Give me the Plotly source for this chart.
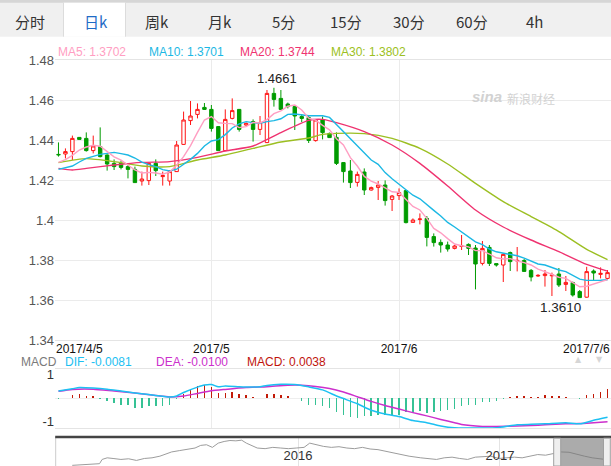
import plotly.graph_objects as go
import pandas as pd

W, H = 611, 466

# ---------------- data ----------------
trade_days = pd.bdate_range('2017-04-05', '2017-07-06', freq='C',
                            weekmask='Mon Tue Wed Thu Fri Sat')
days = [d.strftime('%Y-%m-%d') for d in trade_days]

open_ = [1.4328, 1.4330, 1.4342, 1.4413, 1.4408, 1.4347, 1.4367, 1.4325, 1.4283, 1.4283,
         1.4267, 1.4253, 1.4195, 1.4197, 1.4283, 1.4217, 1.4195, 1.4242, 1.4378, 1.4497,
         1.4528, 1.4563, 1.4553, 1.4467, 1.4347, 1.4508, 1.4553, 1.4475, 1.4492, 1.4453,
         1.4387, 1.4633, 1.4608, 1.4580, 1.4567, 1.4517, 1.4512, 1.4397, 1.4500, 1.4433,
         1.4413, 1.4287, 1.4245, 1.4188, 1.4240, 1.4150, 1.4163, 1.4175, 1.4103, 1.4122,
         1.4147, 1.3988, 1.4003, 1.4008, 1.3917, 1.3888, 1.3875, 1.3858, 1.3868, 1.3878,
         1.3860, 1.3783, 1.3863, 1.3782, 1.3775, 1.3837, 1.3795, 1.3797, 1.3748, 1.3720,
         1.3722, 1.3721, 1.3730, 1.3678, 1.3687, 1.3642, 1.3614, 1.3745, 1.3728, 1.3708]
high = [1.4388, 1.4358, 1.4422, 1.4415, 1.4438, 1.4422, 1.4463, 1.4328, 1.4303, 1.4297,
        1.4275, 1.4267, 1.4242, 1.4287, 1.4303, 1.4242, 1.4250, 1.4395, 1.4542, 1.4595,
        1.4583, 1.4585, 1.4575, 1.4470, 1.4553, 1.4608, 1.4555, 1.4487, 1.4503, 1.4520,
        1.4650, 1.4661, 1.4650, 1.4587, 1.4568, 1.4530, 1.4520, 1.4503, 1.4517, 1.4437,
        1.4438, 1.4290, 1.4300, 1.4242, 1.4258, 1.4167, 1.4195, 1.4198, 1.4125, 1.4158,
        1.4150, 1.4008, 1.4033, 1.4020, 1.3933, 1.3903, 1.3892, 1.3875, 1.3925, 1.3883,
        1.3875, 1.3895, 1.3875, 1.3782, 1.3833, 1.3842, 1.3865, 1.3805, 1.3755, 1.3729,
        1.3750, 1.3737, 1.3760, 1.3720, 1.3692, 1.3650, 1.3766, 1.3753, 1.3763, 1.3750]
low = [1.4317, 1.4308, 1.4300, 1.4402, 1.4342, 1.4333, 1.4313, 1.4247, 1.4250, 1.4253,
       1.4208, 1.4187, 1.4172, 1.4175, 1.4220, 1.4172, 1.4172, 1.4240, 1.4376, 1.4475,
       1.4508, 1.4550, 1.4442, 1.4347, 1.4345, 1.4503, 1.4442, 1.4470, 1.4392, 1.4425,
       1.4385, 1.4567, 1.4550, 1.4558, 1.4450, 1.4490, 1.4385, 1.4392, 1.4403, 1.4410,
       1.4275, 1.4187, 1.4160, 1.4167, 1.4125, 1.4147, 1.4100, 1.4072, 1.4045, 1.4100,
       1.3983, 1.3987, 1.3978, 1.3868, 1.3867, 1.3837, 1.3842, 1.3853, 1.3850, 1.3825,
       1.3653, 1.3773, 1.3770, 1.3767, 1.3690, 1.3745, 1.3743, 1.3742, 1.3693, 1.3716,
       1.3667, 1.3620, 1.3665, 1.3645, 1.3617, 1.3610, 1.3611, 1.3700, 1.3708, 1.3703]
close = [1.4326, 1.4342, 1.4408, 1.4403, 1.4347, 1.4370, 1.4317, 1.4280, 1.4267, 1.4263,
         1.4253, 1.4187, 1.4205, 1.4283, 1.4247, 1.4222, 1.4242, 1.4375, 1.4500, 1.4520,
         1.4553, 1.4553, 1.4458, 1.4347, 1.4503, 1.4547, 1.4453, 1.4483, 1.4453, 1.4487,
         1.4633, 1.4603, 1.4553, 1.4567, 1.4520, 1.4508, 1.4398, 1.4500, 1.4437, 1.4412,
         1.4283, 1.4242, 1.4187, 1.4228, 1.4150, 1.4162, 1.4175, 1.4097, 1.4120, 1.4137,
         1.3987, 1.4000, 1.4005, 1.3913, 1.3887, 1.3875, 1.3855, 1.3870, 1.3870, 1.3858,
         1.3780, 1.3858, 1.3783, 1.3775, 1.3828, 1.3792, 1.3798, 1.3743, 1.3715, 1.3723,
         1.3730, 1.3725, 1.3675, 1.3688, 1.3625, 1.3612, 1.3742, 1.3735, 1.3733, 1.3737]

ma5 = [1.4288, 1.4302, 1.4323, 1.4350, 1.4365, 1.4374, 1.4369, 1.4343, 1.4316, 1.4299,
       1.4276, 1.4250, 1.4235, 1.4238, 1.4235, 1.4229, 1.4240, 1.4274, 1.4317, 1.4372,
       1.4438, 1.4500, 1.4517, 1.4486, 1.4483, 1.4482, 1.4462, 1.4467, 1.4488, 1.4485,
       1.4502, 1.4532, 1.4546, 1.4569, 1.4575, 1.4550, 1.4509, 1.4499, 1.4473, 1.4451,
       1.4406, 1.4375, 1.4312, 1.4270, 1.4218, 1.4194, 1.4180, 1.4162, 1.4141, 1.4138,
       1.4103, 1.4068, 1.4050, 1.4008, 1.3958, 1.3936, 1.3907, 1.3880, 1.3871, 1.3866,
       1.3847, 1.3847, 1.3830, 1.3811, 1.3805, 1.3807, 1.3795, 1.3787, 1.3775, 1.3754,
       1.3742, 1.3727, 1.3714, 1.3708, 1.3689, 1.3666, 1.3669, 1.3681, 1.3690, 1.3702]
ma10 = [1.4253, 1.4260, 1.4270, 1.4290, 1.4308, 1.4318, 1.4328, 1.4333, 1.4338, 1.4332,
        1.4325, 1.4310, 1.4289, 1.4277, 1.4267, 1.4252, 1.4245, 1.4254, 1.4278, 1.4303,
        1.4333, 1.4370, 1.4395, 1.4402, 1.4427, 1.4460, 1.4481, 1.4492, 1.4487, 1.4484,
        1.4492, 1.4497, 1.4506, 1.4528, 1.4530, 1.4526, 1.4521, 1.4522, 1.4521, 1.4513,
        1.4478, 1.4442, 1.4405, 1.4372, 1.4335, 1.4300, 1.4278, 1.4237, 1.4206, 1.4178,
        1.4149, 1.4124, 1.4106, 1.4075, 1.4048, 1.4020, 1.3988, 1.3965, 1.3940, 1.3912,
        1.3891, 1.3877, 1.3855, 1.3841, 1.3835, 1.3827, 1.3821, 1.3809, 1.3793, 1.3780,
        1.3775, 1.3761, 1.3750, 1.3742, 1.3721, 1.3704, 1.3698, 1.3697, 1.3699, 1.3701]
ma20_idx = [0, 2, 4, 8, 12, 16, 20, 24, 28, 32, 36, 38, 40, 44, 48, 52, 56, 60, 64, 68, 72, 76, 79]
ma20 = [1.4258, 1.4250, 1.4258, 1.4275, 1.4288, 1.4292, 1.4313, 1.4345, 1.4370, 1.4437,
        1.4498, 1.4503, 1.4487, 1.4442, 1.4375, 1.4283, 1.4170, 1.4050, 1.3965, 1.3900,
        1.3842, 1.3778, 1.3744]
ma30_idx = [0, 4, 8, 12, 16, 20, 24, 28, 32, 36, 38, 40, 44, 48, 52, 56, 60, 64, 68, 72, 76, 79]
ma30 = [1.4287, 1.4307, 1.4292, 1.4270, 1.4267, 1.4300, 1.4325, 1.4358, 1.4390, 1.4410,
        1.4428, 1.4433, 1.4432, 1.4408, 1.4358, 1.4280, 1.4183, 1.4092, 1.4017, 1.3942,
        1.3853, 1.3802]

macd_hist = [-0.0003, 0.0003, 0.0013, 0.0017, 0.0010, 0.0009, -0.0001, -0.0011, -0.0020, -0.0027,
             -0.0030, -0.0040, -0.0041, -0.0033, -0.0033, -0.0034, -0.0027, -0.0005, 0.0020, 0.0039,
             0.0053, 0.0059, 0.0049, 0.0023, 0.0023, 0.0027, 0.0017, 0.0013, 0.0006, 0.0001,
             0.0017, 0.0020, 0.0013, 0.0010, 0.0001, -0.0010, -0.0027, -0.0030, -0.0033, -0.0040,
             -0.0059, -0.0070, -0.0080, -0.0083, -0.0076, -0.0077, -0.0073, -0.0073, -0.0070, -0.0070,
             -0.0059, -0.0061, -0.0054, -0.0061, -0.0059, -0.0056, -0.0051, -0.0044, -0.0034, -0.0030,
             -0.0027, -0.0016, -0.0016, -0.0011, -0.0003, 0.0004, 0.0010, 0.0009, 0.0006, 0.0007,
             0.0013, 0.0010, 0.0010, 0.0007, 0.0003, -0.0001, 0.0013, 0.0020, 0.0027, 0.0038]
dif_idx = [0, 2, 3, 5, 7, 9, 11, 13, 15, 16, 17, 18, 20, 21, 22, 23, 24, 26, 27, 29, 30, 32,
           34, 36, 38, 40, 41, 43, 45, 47, 49, 51, 53, 55, 57, 59, 61, 63, 66, 68, 70, 73, 75, 77, 79]
dif = [0.0031, 0.0041, 0.0046, 0.0044, 0.0039, 0.0031, 0.0023, 0.0016, 0.0009, 0.0006, 0.0010,
       0.0025, 0.0048, 0.0057, 0.0059, 0.0049, 0.0053, 0.0049, 0.0048, 0.0049, 0.0055, 0.0060,
       0.0059, 0.0049, 0.0036, 0.0010, -0.0001, -0.0023, -0.0051, -0.0067, -0.0078, -0.0095,
       -0.0104, -0.0118, -0.0126, -0.0127, -0.0127, -0.0126, -0.0113, -0.0111, -0.0109, -0.0104,
       -0.0109, -0.0094, -0.0081]
dea_idx = [0, 2, 5, 8, 11, 14, 16, 18, 20, 22, 24, 27, 30, 33, 35, 37, 39, 41, 43, 45, 47, 49,
           51, 53, 55, 57, 58, 61, 63, 66, 68, 70, 73, 75, 77, 79]
dea = [0.0030, 0.0038, 0.0039, 0.0031, 0.0023, 0.0012, 0.0006, 0.0010, 0.0021, 0.0032, 0.0038,
       0.0046, 0.0050, 0.0056, 0.0056, 0.0051, 0.0042, 0.0027, 0.0007, -0.0013, -0.0031, -0.0046,
       -0.0061, -0.0075, -0.0090, -0.0104, -0.0112, -0.0120, -0.0120, -0.0118, -0.0116, -0.0113,
       -0.0109, -0.0108, -0.0104, -0.0100]

nav_year = [2014.882, 2014.910, 2014.968, 2015.017, 2015.030, 2015.055, 2015.084, 2015.123,
            2015.161, 2015.200, 2015.239, 2015.277, 2015.316, 2015.345, 2015.374, 2015.412,
            2015.451, 2015.490, 2015.518, 2015.547, 2015.576, 2015.605, 2015.634, 2015.663,
            2015.692, 2015.721, 2015.744, 2015.769, 2015.798, 2015.837, 2015.875, 2015.914,
            2015.952, 2015.991, 2016.030, 2016.058, 2016.088, 2016.126, 2016.165, 2016.203,
            2016.242, 2016.280, 2016.319, 2016.357, 2016.396, 2016.435, 2016.473, 2016.512,
            2016.550, 2016.608, 2016.647, 2016.686, 2016.724, 2016.763, 2016.801, 2016.840,
            2016.878, 2016.917, 2016.955, 2016.994, 2017.033, 2017.072, 2017.110, 2017.149,
            2017.187, 2017.226, 2017.264, 2017.303, 2017.342, 2017.380, 2017.419, 2017.457,
            2017.505, 2017.534]
nav_value = [1.2508, 1.2560, 1.2560, 1.2770, 1.3453, 1.3715, 1.3610, 1.3453,
             1.3558, 1.3295, 1.3610, 1.3715, 1.3978, 1.4345, 1.4660, 1.4870,
             1.5028, 1.5290, 1.5710, 1.5815, 1.5395, 1.6078, 1.6340, 1.6498,
             1.6445, 1.6550, 1.6078, 1.5710, 1.5290, 1.5185, 1.5395, 1.5290,
             1.5185, 1.5290, 1.5395, 1.6078, 1.5815, 1.5553, 1.5395, 1.5500,
             1.5290, 1.5185, 1.5395, 1.5133, 1.5028, 1.4765, 1.4503, 1.4135,
             1.3978, 1.3715, 1.3610, 1.3453, 1.3715, 1.3820, 1.3610, 1.3453,
             1.3820, 1.3925, 1.3978, 1.3610, 1.3715, 1.3820, 1.3715, 1.3978,
             1.4240, 1.4135, 1.4345, 1.4660, 1.4608, 1.4240, 1.3978, 1.3715,
             1.3453, 1.3400]

price_ticks = [1.34, 1.36, 1.38, 1.40, 1.42, 1.44, 1.46, 1.48]
price_tick_text = ['1.34', '1.36', '1.38', '1.4', '1.42', '1.44', '1.46', '1.48']
month_ticks = ['2017-05-01', '2017-06-01']
month_tick_text = ['2017/5', '2017/6']
tabs = ['分时', '日k', '周k', '月k', '5分', '15分', '30分', '60分', '4h']

# ---------------- styles ----------------
C_MA5, C_MA10, C_MA20, C_MA30 = '#ff9ec2', '#1cb8e4', '#ef3370', '#9cbf22'
C_UP, C_DN = '#ff1414', '#009b00'
C_DIF, C_DEA = '#1cc0f2', '#cc2fcc'
C_HUP, C_HDN = '#c21a08', '#36c295'
LAT = 'Liberation Sans, Arial, sans-serif'
CJK = 'Noto Sans CJK SC, sans-serif'


def px(x):
    return x / W


def py(y):
    return 1 - y / H


fig = go.Figure()

fig.add_trace(go.Candlestick(
    x=days, open=open_, high=high, low=low, close=close,
    increasing=dict(line=dict(color=C_UP, width=1), fillcolor='#ffffff'),
    decreasing=dict(line=dict(color=C_DN, width=1), fillcolor=C_DN),
    whiskerwidth=0, showlegend=False, hoverinfo='skip', xaxis='x', yaxis='y'))

fig.add_trace(go.Scatter(x=[days[i] for i in ma30_idx], y=ma30, mode='lines',
                         line=dict(color=C_MA30, width=1.4, shape='spline', smoothing=0.6),
                         showlegend=False, hoverinfo='skip', xaxis='x', yaxis='y'))
fig.add_trace(go.Scatter(x=[days[i] for i in ma20_idx], y=ma20, mode='lines',
                         line=dict(color=C_MA20, width=1.4, shape='spline', smoothing=0.6),
                         showlegend=False, hoverinfo='skip', xaxis='x', yaxis='y'))
fig.add_trace(go.Scatter(x=days, y=ma10, mode='lines', line=dict(color=C_MA10, width=1.4),
                         showlegend=False, hoverinfo='skip', xaxis='x', yaxis='y'))
fig.add_trace(go.Scatter(x=days, y=ma5, mode='lines', line=dict(color=C_MA5, width=1.4),
                         showlegend=False, hoverinfo='skip', xaxis='x', yaxis='y'))

# MACD panel
fig.add_trace(go.Bar(x=days, y=macd_hist, width=0.22,
                     marker=dict(color=[C_HUP if v >= 0 else C_HDN for v in macd_hist],
                                 line=dict(width=0)),
                     showlegend=False, hoverinfo='skip', xaxis='x2', yaxis='y2'))
fig.add_trace(go.Scatter(x=[days[i] for i in dea_idx], y=dea, mode='lines',
                         line=dict(color=C_DEA, width=1.5, shape='spline', smoothing=0.6),
                         showlegend=False, hoverinfo='skip', xaxis='x2', yaxis='y2'))
fig.add_trace(go.Scatter(x=[days[i] for i in dif_idx], y=dif, mode='lines',
                         line=dict(color=C_DIF, width=1.5, shape='spline', smoothing=0.6),
                         showlegend=False, hoverinfo='skip', xaxis='x2', yaxis='y2'))

# navigator
fig.add_trace(go.Scatter(x=nav_year, y=nav_value, mode='lines',
                         line=dict(color='#9c9c9c', width=1),
                         showlegend=False, hoverinfo='skip', xaxis='x3', yaxis='y3'))

grid = '#ebebeb'
fig.update_layout(
    width=W, height=H, margin=dict(l=0, r=0, t=0, b=0),
    paper_bgcolor='white', plot_bgcolor='white',
    font=dict(family=LAT, size=12, color='#333'),
    bargap=0,
    xaxis=dict(domain=[55 / W, 1], type='category', categoryorder='array', categoryarray=days,
               range=[-0.5, 79.5], tickmode='array', tickvals=month_ticks, ticktext=month_tick_text,
               showgrid=True, gridcolor=grid, showline=True, mirror=True, linecolor='#e4e4e4',
               ticks='', tickfont=dict(size=12, color='#111'), rangeslider=dict(visible=False),
               ticklabelstandoff=-2,
               anchor='y', zeroline=False, automargin=False),
    yaxis=dict(domain=[py(340), py(60)], range=[1.34, 1.48], tickmode='array',
               tickvals=price_ticks, ticktext=price_tick_text, showgrid=True, gridcolor=grid,
               zeroline=False, ticks='', tickfont=dict(size=13, color='#555'), anchor='x',
               ticklabelstandoff=0, automargin=False),
    xaxis2=dict(domain=[55 / W, 1], type='category', categoryorder='array', categoryarray=days,
                range=[-0.5, 79.5], tickmode='array', tickvals=month_ticks, showticklabels=False,
                showgrid=True, gridcolor=grid, showline=True, mirror=True, linecolor='#e4e4e4',
                ticks='', anchor='y2', zeroline=False, automargin=False),
    yaxis2=dict(domain=[py(428.3), py(369.3)], range=[-0.0128, 0.0124], tickmode='array',
                tickvals=[-0.01, 0.01], ticktext=['-1', '1'], showgrid=False, zeroline=True,
                zerolinecolor='#eeeeee', zerolinewidth=1, ticks='',
                tickfont=dict(size=13, color='#333'), anchor='x2', automargin=False),
    xaxis3=dict(domain=[55.7 / W, 1], range=[2014.80, 2017.55], tickmode='array',
                tickvals=[2016, 2017], ticktext=['2016', '2017'], ticklabelposition='inside',
                showgrid=True, gridcolor='#e4e4e4', zeroline=False, showline=False, ticks='',
                tickfont=dict(size=13, color='#333'), anchor='y3', automargin=False),
    yaxis3=dict(domain=[0, py(438)], range=[1.24, 1.69], visible=False, anchor='x3'),
)

shapes = [
    # tab bar
    dict(type='rect', xref='paper', yref='paper', x0=0, x1=1, y0=py(36.7), y1=py(0),
         fillcolor='#f0f0f0', line=dict(width=0), layer='above'),
    dict(type='rect', xref='paper', yref='paper', x0=0, x1=1, y0=py(2.7), y1=py(0),
         fillcolor='#d6d6d6', line=dict(width=0), layer='above'),
    dict(type='rect', xref='paper', yref='paper', x0=px(63.5), x1=px(125.5), y0=py(36.7),
         y1=py(2.7), fillcolor='#ffffff', line=dict(width=0), layer='above'),
    dict(type='line', xref='paper', yref='paper', x0=px(63.5), x1=px(63.5), y0=py(36.7),
         y1=py(2.7), line=dict(color='#dcdcdc', width=1), layer='above'),
    dict(type='line', xref='paper', yref='paper', x0=px(125.5), x1=px(125.5), y0=py(36.7),
         y1=py(2.7), line=dict(color='#dcdcdc', width=1), layer='above'),
    # navigator frame
    dict(type='line', xref='paper', yref='paper', x0=px(55.7), x1=px(55.7), y0=0, y1=py(437),
         line=dict(color='#cccccc', width=1), layer='above'),
    dict(type='rect', xref='paper', yref='paper', x0=px(55.2), x1=1, y0=py(438.2), y1=py(435.8),
         fillcolor='#444444', line=dict(width=0), layer='above'),
    # navigator selection
    dict(type='rect', xref='paper', yref='paper', x0=px(557), x1=px(607), y0=0, y1=py(438.2),
         fillcolor='rgba(120,120,120,0.62)', line=dict(width=0), layer='above'),
    dict(type='rect', xref='paper', yref='paper', x0=px(553.7), x1=px(560.7), y0=0,
         y1=py(438.2), fillcolor='#efefef', line=dict(color='#a0a0a0', width=1), layer='above'),
    dict(type='rect', xref='paper', yref='paper', x0=px(603.5), x1=px(610.3), y0=0,
         y1=py(438.2), fillcolor='#efefef', line=dict(color='#a0a0a0', width=1), layer='above'),
]
fig.update_layout(shapes=shapes)

ann = []
tab_x = [30.4, 95.5, 157, 220, 283, 346, 409, 471.5, 534.7]
for t, xx in zip(tabs, tab_x):
    ann.append(dict(text=t, x=px(xx), y=py(21.7), xref='paper', yref='paper', showarrow=False,
                    xanchor='center', yanchor='middle',
                    font=dict(family=CJK, size=15, color='#1e6bc6' if t == '日k' else '#333333')))

legend_items = [('MA5: 1.3702', 55.7, C_MA5), ('MA10: 1.3701', 147.3, C_MA10),
                ('MA20: 1.3744', 237.7, C_MA20), ('MA30: 1.3802', 328.5, C_MA30)]
for t, xx, c in legend_items:
    ann.append(dict(text=t, x=px(xx), y=py(52.3), xref='paper', yref='paper', showarrow=False,
                    xanchor='left', yanchor='middle', font=dict(family=LAT, size=12, color=c)))

macd_items = [('MACD', 20, '#7a7a7a'), ('DIF: -0.0081', 64.3, C_DIF),
              ('DEA: -0.0100', 155, C_DEA), ('MACD: 0.0038', 245.5, '#c0140c')]
for t, xx, c in macd_items:
    ann.append(dict(text=t, x=px(xx), y=py(362), xref='paper', yref='paper', showarrow=False,
                    xanchor='left', yanchor='middle', borderpad=0,
                    font=dict(family=LAT, size=12, color=c)))
ann.append(dict(text='▲', x=px(583), y=py(365), xref='paper', yref='paper', showarrow=False,
                borderpad=0, font=dict(family='DejaVu Sans', size=8, color='#d6d6d6')))
ann.append(dict(text='▼', x=px(604), y=py(365), xref='paper', yref='paper', showarrow=False,
                borderpad=0, font=dict(family='DejaVu Sans', size=8, color='#d6d6d6')))

# date labels at the two ends of the axis
ann.append(dict(text='2017/4/5', x=-0.5, xref='x', y=py(348.5), yref='paper', showarrow=False,
                xanchor='left', yanchor='middle', borderpad=0,
                font=dict(family=LAT, size=12, color='#111')))
ann.append(dict(text='2017/7/6', x=79.5, xref='x', y=py(348.5), yref='paper', showarrow=False,
                xanchor='right', yanchor='middle', borderpad=0,
                font=dict(family=LAT, size=12, color='#111')))

# extreme labels
i_hi = max(range(len(high)), key=lambda k: high[k])
i_lo = min(range(len(low)), key=lambda k: low[k])
ann.append(dict(text=f'{high[i_hi]:.4f}', x=days[i_hi], y=high[i_hi], xref='x', yref='y',
                showarrow=False, xanchor='center', yanchor='bottom', xshift=3,
                font=dict(family=LAT, size=13, color='#222')))
ann.append(dict(text=f'{low[i_lo]:.4f}', x=days[i_lo], y=low[i_lo], xref='x', yref='y',
                showarrow=False, xanchor='right', yanchor='top', xshift=3,
                font=dict(family=LAT, size=13.5, color='#222')))

# watermark
ann.append(dict(text='<b><i>sina</i></b>', x=px(503), y=py(87), xref='paper', yref='paper',
                xanchor='right', borderpad=0, showarrow=False,
                font=dict(family=LAT, size=15, color='#d2d2d2')))
ann.append(dict(text='新浪财经', x=px(506), y=py(88.5), xref='paper', yref='paper',
                xanchor='left', borderpad=0, showarrow=False,
                font=dict(family=CJK, size=12, color='#d2d2d2')))

fig.update_layout(annotations=ann)

fig.write_html('out.html', config=dict(displayModeBar=False, staticPlot=True),
               post_script="document.body.style.margin='0px';document.body.style.overflow='hidden';")
